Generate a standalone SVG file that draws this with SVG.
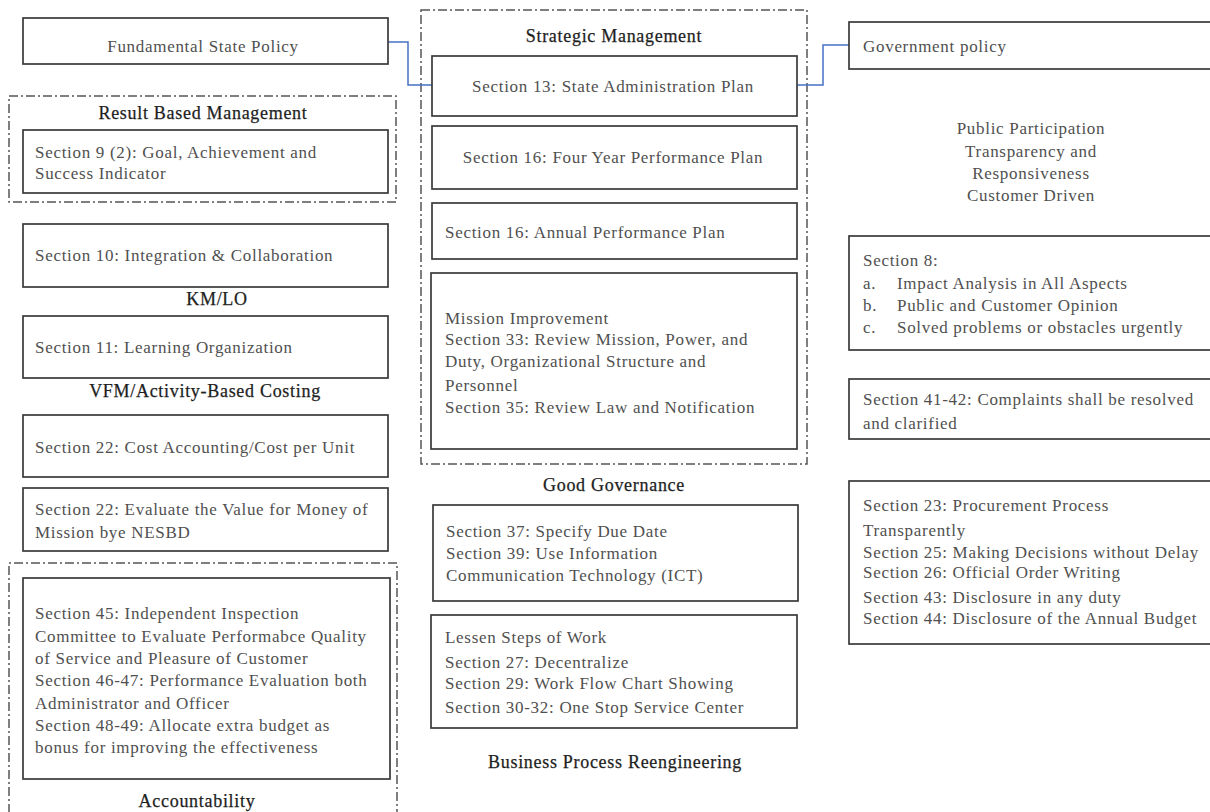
<svg xmlns="http://www.w3.org/2000/svg" width="1210" height="812" viewBox="0 0 1210 812">
  <style>
    .box { fill: #ffffff; stroke: #3a3a3a; stroke-width: 1.7; }
    .group { fill: none; stroke: #555555; stroke-width: 1.5; stroke-dasharray: 9 3 2 3; }
    .txt { font-family: "Liberation Serif", "Times New Roman", serif; font-size: 17px; letter-spacing: 0.7px; fill: #505050; }
    .mid { text-anchor: middle; }
    .head { font-family: "Liberation Serif", "Times New Roman", serif; font-size: 18px; letter-spacing: 0.7px; fill: #1e1e1e; stroke: #1e1e1e; stroke-width: 0.25; text-anchor: middle; }
    .link { fill: none; stroke: #4472c4; stroke-width: 1.5; }
  </style>
  <rect width="1210" height="812" fill="#ffffff"/>

  <!-- grouping frames (dash-dot) -->
  <g id="frames">
    <rect class="group" x="9" y="96" width="387" height="106"/>
    <path class="group" d="M9 830 V563 H397 V830"/>
    <rect class="group" x="421" y="10" width="386" height="454"/>
  </g>

  <!-- connectors -->
  <g id="connectors">
    <path class="link" d="M388 42 H408 V85 H432"/>
    <path class="link" d="M797 85 H823 V45 H849"/>
  </g>

  <!-- left column -->
  <g id="fundamental-state-policy">
    <rect class="box" x="23" y="18" width="365" height="46"/>
    <text class="txt mid" x="203" y="52">Fundamental State Policy</text>
  </g>
  <g id="result-based-management">
    <text class="head" x="203" y="119">Result Based Management</text>
    <rect class="box" x="23" y="130" width="365" height="63"/>
    <text class="txt" x="35" y="158">Section 9 (2): Goal, Achievement and</text>
    <text class="txt" x="35" y="179">Success Indicator</text>
  </g>
  <g id="section-10">
    <rect class="box" x="23" y="224" width="365" height="63"/>
    <text class="txt" x="35" y="261">Section 10: Integration &amp; Collaboration</text>
  </g>
  <g id="km-lo">
    <text class="head" x="217" y="305">KM/LO</text>
  </g>
  <g id="section-11">
    <rect class="box" x="23" y="316" width="365" height="62"/>
    <text class="txt" x="35" y="353">Section 11: Learning Organization</text>
  </g>
  <g id="vfm">
    <text class="head" x="205" y="397">VFM/Activity-Based Costing</text>
  </g>
  <g id="section-22-cost">
    <rect class="box" x="23" y="415" width="365" height="62"/>
    <text class="txt" x="35" y="453">Section 22: Cost Accounting/Cost per Unit</text>
  </g>
  <g id="section-22-vfm">
    <rect class="box" x="23" y="488" width="365" height="63"/>
    <text class="txt" x="35" y="515">Section 22: Evaluate the Value for Money of</text>
    <text class="txt" x="35" y="538">Mission bye NESBD</text>
  </g>
  <g id="accountability">
    <rect class="box" x="23" y="578" width="367" height="201"/>
    <text class="txt" x="35" y="619">Section 45: Independent Inspection</text>
    <text class="txt" x="35" y="642">Committee to Evaluate Performabce Quality</text>
    <text class="txt" x="35" y="664">of Service and Pleasure of Customer</text>
    <text class="txt" x="35" y="686">Section 46-47: Performance Evaluation both</text>
    <text class="txt" x="35" y="709">Administrator and Officer</text>
    <text class="txt" x="35" y="731">Section 48-49: Allocate extra budget as</text>
    <text class="txt" x="35" y="753">bonus for improving the effectiveness</text>
    <text class="head" x="197" y="807">Accountability</text>
  </g>

  <!-- centre column -->
  <g id="strategic-management">
    <text class="head" x="614" y="42">Strategic Management</text>
  </g>
  <g id="section-13">
    <rect class="box" x="432" y="56" width="365" height="60"/>
    <text class="txt mid" x="613" y="92">Section 13: State Administration Plan</text>
  </g>
  <g id="section-16-four-year">
    <rect class="box" x="432" y="126" width="365" height="63"/>
    <text class="txt mid" x="613" y="163">Section 16: Four Year Performance Plan</text>
  </g>
  <g id="section-16-annual">
    <rect class="box" x="432" y="203" width="365" height="56"/>
    <text class="txt" x="445" y="238">Section 16: Annual Performance Plan</text>
  </g>
  <g id="mission-improvement">
    <rect class="box" x="431" y="273" width="366" height="176"/>
    <text class="txt" x="445" y="324">Mission Improvement</text>
    <text class="txt" x="445" y="345">Section 33: Review Mission, Power, and</text>
    <text class="txt" x="445" y="367">Duty, Organizational Structure and</text>
    <text class="txt" x="445" y="391">Personnel</text>
    <text class="txt" x="445" y="413">Section 35: Review Law and Notification</text>
  </g>
  <g id="good-governance">
    <text class="head" x="614" y="491">Good Governance</text>
    <rect class="box" x="433" y="505" width="365" height="96"/>
    <text class="txt" x="446" y="537">Section 37: Specify Due Date</text>
    <text class="txt" x="446" y="559">Section 39: Use Information</text>
    <text class="txt" x="446" y="581">Communication Technology (ICT)</text>
  </g>
  <g id="business-process-reengineering">
    <rect class="box" x="431" y="615" width="366" height="113"/>
    <text class="txt" x="445" y="643">Lessen Steps of Work</text>
    <text class="txt" x="445" y="668">Section 27: Decentralize</text>
    <text class="txt" x="445" y="689">Section 29: Work Flow Chart Showing</text>
    <text class="txt" x="445" y="713">Section 30-32: One Stop Service Center</text>
    <text class="head" x="615" y="768">Business Process Reengineering</text>
  </g>

  <!-- right column -->
  <g id="government-policy">
    <rect class="box" x="849" y="22" width="370" height="47"/>
    <text class="txt" x="863" y="52">Government policy</text>
  </g>
  <g id="principles">
    <text class="txt mid" x="1031" y="134">Public Participation</text>
    <text class="txt mid" x="1031" y="157">Transparency and</text>
    <text class="txt mid" x="1031" y="179">Responsiveness</text>
    <text class="txt mid" x="1031" y="201">Customer  Driven</text>
  </g>
  <g id="section-8">
    <rect class="box" x="849" y="236" width="370" height="114"/>
    <text class="txt" x="863" y="266">Section 8:</text>
    <text class="txt" x="863" y="289">a.</text>
    <text class="txt" x="897" y="289">Impact Analysis in All Aspects</text>
    <text class="txt" x="863" y="311">b.</text>
    <text class="txt" x="897" y="311">Public and Customer Opinion</text>
    <text class="txt" x="863" y="333">c.</text>
    <text class="txt" x="897" y="333">Solved problems or obstacles urgently</text>
  </g>
  <g id="section-41-42">
    <rect class="box" x="849" y="379" width="370" height="60"/>
    <text class="txt" x="863" y="405">Section 41-42: Complaints shall be resolved</text>
    <text class="txt" x="863" y="429">and clarified</text>
  </g>
  <g id="section-23-44">
    <rect class="box" x="849" y="481" width="370" height="163"/>
    <text class="txt" x="863" y="511">Section 23: Procurement Process</text>
    <text class="txt" x="863" y="536">Transparently</text>
    <text class="txt" x="863" y="558">Section 25: Making Decisions without Delay</text>
    <text class="txt" x="863" y="578">Section 26: Official Order Writing</text>
    <text class="txt" x="863" y="603">Section 43: Disclosure in any duty</text>
    <text class="txt" x="863" y="624">Section 44: Disclosure of the Annual Budget</text>
  </g>
</svg>
